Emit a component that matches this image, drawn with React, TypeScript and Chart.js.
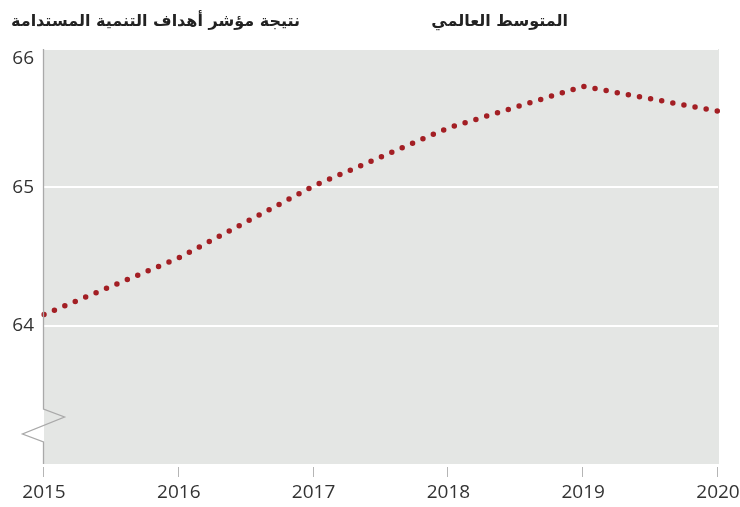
import React, { useEffect, useRef } from "react";
import { Chart, registerables } from "chart.js";

Chart.register(...registerables);

const years = ["2015", "2016", "2017", "2018", "2019", "2020"];
const scores = [64.08, 64.49, 65.01, 65.43, 65.73, 65.55];
const yTicks = [64, 65, 66];
const titleLeft = "نتيجة مؤشر أهداف التنمية المستدامة";
const titleRight = "المتوسط العالمي";

const GRAY_BG = "#e4e6e4";
const AXIS_GRAY = "#a9a9a9";
const LABEL_FONT = "19px 'Open Sans', sans-serif";

const decorPlugin = {
  id: "decor",
  beforeDraw(chart: any) {
    const { ctx, chartArea } = chart;
    const { left, right, top, bottom } = chartArea;
    ctx.save();
    ctx.fillStyle = GRAY_BG;
    ctx.fillRect(left, top, right - left + 1, bottom - top);
    ctx.restore();
  },
  afterDraw(chart: any) {
    const { ctx, chartArea, scales } = chart;
    const { left, top, bottom } = chartArea;
    const x = left - 0.5;
    ctx.save();
    const b1 = bottom - 55;
    ctx.strokeStyle = AXIS_GRAY;
    ctx.lineWidth = 1.3;
    ctx.beginPath();
    ctx.moveTo(x, top);
    ctx.lineTo(x, b1);
    ctx.lineTo(x + 21, b1 + 8);
    ctx.lineTo(x - 21, b1 + 25);
    ctx.lineTo(x, b1 + 33);
    ctx.lineTo(x, bottom);
    ctx.stroke();
    const xs = scales.x;
    ctx.strokeStyle = "#b5b5b5";
    ctx.lineWidth = 1;
    years.forEach((_, i) => {
      const px = Math.round(xs.getPixelForValue(i)) - 0.5;
      ctx.beginPath();
      ctx.moveTo(px, bottom + 3);
      ctx.lineTo(px, bottom + 13);
      ctx.stroke();
    });
    ctx.fillStyle = "#333333";
    ctx.font = LABEL_FONT;
    ctx.textAlign = "center";
    ctx.textBaseline = "middle";
    years.forEach((y, i) => {
      ctx.fillText(y, xs.getPixelForValue(i), bottom + 29);
    });
    const ys = scales.y;
    ctx.textAlign = "right";
    yTicks.forEach((v) => {
      const py = Math.max(ys.getPixelForValue(v), top + 10);
      ctx.fillText(String(v), left - 10, py);
    });
    ctx.restore();
  },
};

export default function App() {
  const ref = useRef<HTMLCanvasElement>(null);
  useEffect(() => {
    if (!ref.current) return;
    const chart = new Chart(ref.current, {
      type: "line",
      data: {
        labels: years,
        datasets: [
          {
            data: scores,
            borderColor: "#a31f24",
            borderWidth: 5.5,
            borderDash: [0, 11.3],
            borderCapStyle: "round",
            pointRadius: 0,
            tension: 0,
            fill: false,
          },
        ],
      },
      options: {
        animation: false,
        responsive: false,
        maintainAspectRatio: false,
        layout: { padding: { top: 49, right: 22, left: 0, bottom: 0 } },
        plugins: { legend: { display: false }, tooltip: { enabled: false } },
        scales: {
          x: {
            type: "category",
            offset: false,
            grid: { display: false },
            border: { display: false },
            ticks: { display: false },
            afterFit: (s: any) => {
              s.height = 43;
            },
          },
          y: {
            min: 63,
            max: 66,
            ticks: { display: false, stepSize: 1 },
            border: { display: false },
            grid: {
              color: (c: any) => (c.tick && c.tick.value === 63 ? "rgba(0,0,0,0)" : "#ffffff"),
              lineWidth: 2,
              drawTicks: false,
            },
            afterFit: (s: any) => {
              s.width = 44;
            },
          },
        },
      },
      plugins: [decorPlugin],
    } as any);
    return () => chart.destroy();
  }, []);

  const titleStyle: React.CSSProperties = {
    position: "absolute",
    top: 11,
    direction: "rtl",
    fontFamily: "'DejaVu Sans', sans-serif",
    fontWeight: "bold",
    fontSize: 16,
    color: "#222",
    whiteSpace: "nowrap",
  };

  return (
    <div style={{ position: "absolute", left: 0, top: 0, width: 740, height: 507, background: "#fff" }}>
      <canvas ref={ref} width={740} height={507} style={{ position: "absolute", left: 0, top: 0 }} />
      <div style={{ ...titleStyle, right: 740 - 300 }}>{titleLeft}</div>
      <div style={{ ...titleStyle, right: 740 - 568 }}>{titleRight}</div>
    </div>
  );
}
